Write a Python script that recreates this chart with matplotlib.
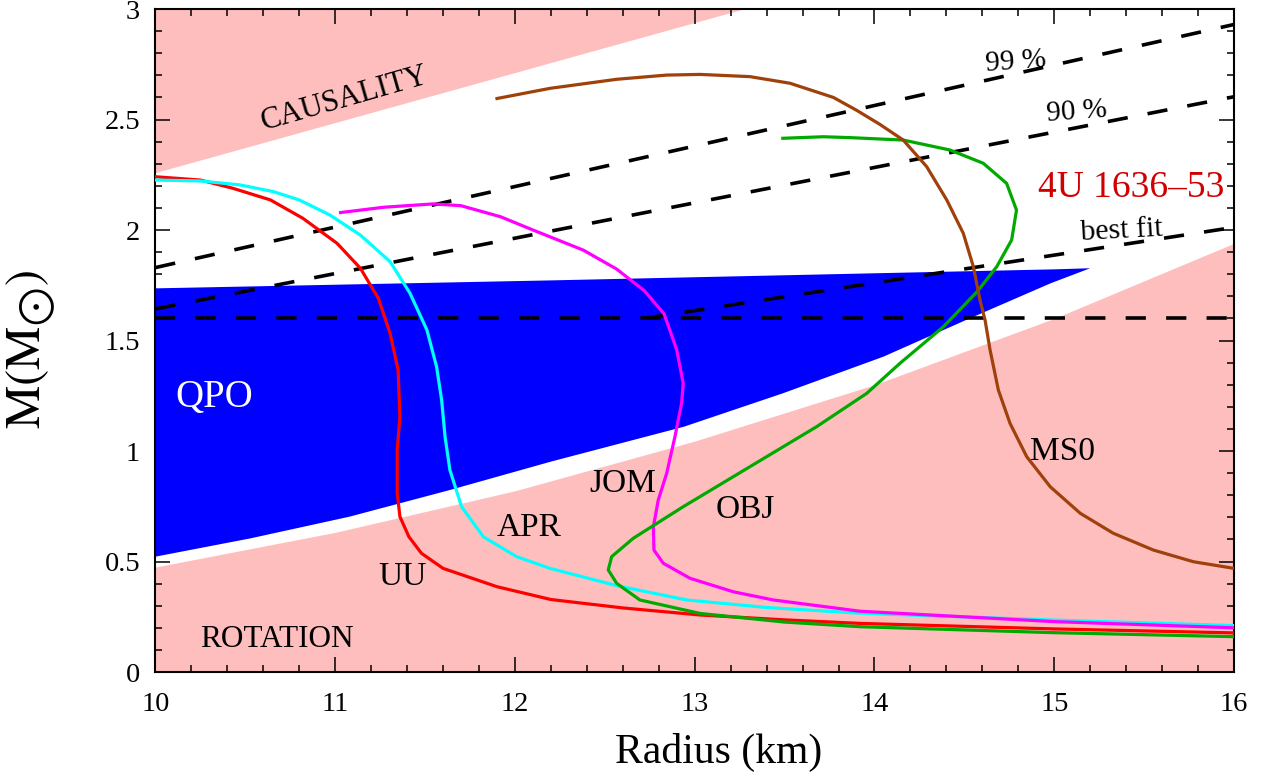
import numpy as np
import matplotlib
matplotlib.use('Agg')
import matplotlib.pyplot as plt
from matplotlib.ticker import MultipleLocator

plt.rcParams['font.family'] = ['Liberation Serif', 'DejaVu Serif']
plt.rcParams['mathtext.fontset'] = 'stix'

# Zonas excluidas
causalidad_r = [10.0, 13.27]
causalidad_m = [2.26, 3.0]
rotacion_r = [10.0, 11.0, 12.0, 13.0, 14.0, 15.0, 16.0]
rotacion_m = [0.475, 0.632, 0.82, 1.045, 1.30, 1.60, 1.94]

# Region QPO (azul)
qpo_sup_r = [10.0, 12.2, 15.0, 15.2]
qpo_sup_m = [1.736, 1.772, 1.822, 1.827]
qpo_inf_r = [10.0, 10.53, 11.08, 11.64, 12.2, 12.94, 13.49, 14.05, 14.51, 14.98, 15.2]
qpo_inf_m = [0.522, 0.605, 0.703, 0.824, 0.952, 1.11, 1.261, 1.427, 1.593, 1.759, 1.827]

# Lineas discontinuas 4U 1636-53
l99_r = [10.0, 16.0]
l99_m = [1.83, 2.93]
l90_r = [10.0, 16.0]
l90_m = [1.643, 2.603]
mejor_r = [12.72, 16.0]
mejor_m = [1.6, 2.012]
horiz_r = [10.0, 16.0]
horiz_m = [1.6, 1.6]

# Curvas masa-radio
uu_r = [10.0, 10.25, 10.43, 10.64, 10.82, 11.01, 11.14, 11.24, 11.305, 11.35, 11.36, 11.345,
        11.345, 11.36, 11.41, 11.48, 11.6, 11.9, 12.2, 12.6, 13.03, 13.5, 13.92, 15.0, 16.0]
uu_m = [2.241, 2.226, 2.189, 2.136, 2.053, 1.94, 1.827, 1.691, 1.533, 1.367, 1.155, 1.005,
        0.809, 0.703, 0.612, 0.537, 0.469, 0.386, 0.328, 0.29, 0.258, 0.236, 0.22, 0.195, 0.177]

apr_r = [10.0, 10.25, 10.47, 10.655, 10.80, 10.97, 11.14, 11.305, 11.416, 11.51, 11.564, 11.592,
         11.611, 11.638, 11.703, 11.824, 12.009, 12.195, 12.57, 12.955, 13.4, 13.92, 15.0, 16.0]
apr_m = [2.226, 2.222, 2.204, 2.174, 2.136, 2.068, 1.977, 1.857, 1.714, 1.548, 1.381, 1.231,
         1.065, 0.914, 0.748, 0.612, 0.522, 0.469, 0.39, 0.326, 0.292, 0.266, 0.235, 0.21]

jom_r = [11.03, 11.27, 11.545, 11.70, 11.92, 12.10, 12.38, 12.566, 12.72, 12.83, 12.90, 12.936,
         12.927, 12.89, 12.844, 12.797, 12.77, 12.773, 12.825, 12.974, 13.215, 13.437, 13.92, 15.0, 16.0]
jom_m = [2.079, 2.103, 2.118, 2.11, 2.06, 2.0, 1.909, 1.823, 1.725, 1.62, 1.457, 1.306,
         1.216, 1.065, 0.899, 0.778, 0.657, 0.552, 0.492, 0.424, 0.363, 0.326, 0.275, 0.228, 0.2]

obj_r = [13.49, 13.715, 13.864, 14.16, 14.42, 14.605, 14.735, 14.79, 14.763, 14.68, 14.57, 14.383,
         14.142, 13.957, 13.678, 13.307, 12.936, 12.658, 12.538, 12.519, 12.566, 12.695, 13.03, 13.5,
         13.92, 15.0, 16.0]
obj_m = [2.415, 2.422, 2.418, 2.407, 2.362, 2.302, 2.211, 2.09, 1.955, 1.834, 1.72, 1.562,
         1.397, 1.261, 1.11, 0.929, 0.748, 0.605, 0.522, 0.462, 0.401, 0.326, 0.265, 0.226,
         0.205, 0.178, 0.16]

ms0_r = [11.9, 12.195, 12.566, 12.844, 13.03, 13.307, 13.53, 13.771, 13.9, 14.03, 14.16, 14.29,
         14.402, 14.494, 14.55, 14.587, 14.615, 14.643, 14.689, 14.754, 14.847, 14.978, 15.145,
         15.328, 15.551, 15.774, 16.0]
ms0_m = [2.595, 2.641, 2.682, 2.701, 2.704, 2.694, 2.664, 2.6, 2.542, 2.478, 2.407, 2.287,
         2.136, 1.985, 1.834, 1.683, 1.593, 1.457, 1.276, 1.125, 0.974, 0.838, 0.718,
         0.628, 0.552, 0.499, 0.469]

rosa = '#FFBEBE'

fig = plt.figure(figsize=(12.71, 7.76), dpi=100)
ax = fig.add_axes([0.1223, 0.134, 0.8486, 0.8544])

# Zonas
ax.fill_between(causalidad_r, causalidad_m, 3.0, color=rosa, lw=0, zorder=1)
ax.fill_between(rotacion_r, 0, rotacion_m, color=rosa, lw=0, zorder=1)
ax.fill(np.concatenate([qpo_sup_r, qpo_inf_r[::-1]]),
        np.concatenate([qpo_sup_m, qpo_inf_m[::-1]]), color='#0000FF', lw=0, zorder=2)

# Lineas discontinuas
for rr, mm in [(l99_r, l99_m), (l90_r, l90_m), (mejor_r, mejor_m), (horiz_r, horiz_m)]:
    ax.plot(rr, mm, color='black', lw=2.6, dashes=(5.6, 5.6), zorder=3)

# Curvas
ax.plot(uu_r, uu_m, color='#FF0000', lw=2.3, zorder=4)
ax.plot(apr_r, apr_m, color='#00FFFF', lw=2.3, zorder=4)
ax.plot(jom_r, jom_m, color='#FF00FF', lw=2.3, zorder=4)
ax.plot(obj_r, obj_m, color='#00AA00', lw=2.3, zorder=4)
ax.plot(ms0_r, ms0_m, color='#A0400A', lw=2.3, zorder=4)

# Textos
ax.text(11.054, 2.593, 'CAUSALITY', fontsize=22, rotation=16, ha='center', va='center')
ax.text(10.676, 0.149, 'ROTATION', fontsize=22.5, ha='center', va='center')
ax.text(10.325, 1.24, 'QPO', fontsize=28, color='white', ha='center', va='center')
ax.text(11.374, 0.43, 'UU', fontsize=24, ha='center', va='center')
ax.text(12.08, 0.655, 'APR', fontsize=24, ha='center', va='center')
ax.text(12.598, 0.85, 'JOM', fontsize=24, ha='center', va='center')
ax.text(13.284, 0.735, 'OBJ', fontsize=24, ha='center', va='center')
ax.text(15.046, 0.998, 'MS0', fontsize=24, ha='center', va='center')
ax.text(15.426, 2.19, '4U 1636\u201353', fontsize=27, color='#D00000', ha='center', va='center')
ax.text(15.375, 1.997, 'best fit', fontsize=21.5, rotation=3, ha='center', va='center')
ax.text(14.787, 2.762, '99 %', fontsize=21, rotation=4, ha='center', va='center')
ax.text(15.125, 2.534, '90 %', fontsize=21, rotation=4, ha='center', va='center')

ax.set_xlim(10, 16)
ax.set_ylim(0, 3)
ax.xaxis.set_major_locator(MultipleLocator(1))
ax.xaxis.set_minor_locator(MultipleLocator(0.2))
ax.yaxis.set_major_locator(MultipleLocator(0.5))
ax.yaxis.set_minor_locator(MultipleLocator(0.1))
ax.yaxis.set_major_formatter(plt.FuncFormatter(lambda v, p: f'{v:g}'))
ax.tick_params(which='both', direction='in', top=True, right=True, width=1.1, labelsize=20.5)
ax.tick_params(which='major', length=11)
ax.tick_params(which='minor', length=5.2)
ax.tick_params(axis='x', pad=14.5)
ax.tick_params(axis='y', pad=11)
for s in ax.spines.values():
    s.set_linewidth(1.5)

# Etiquetas de los ejes
fig.text(719 / 1271, 1 - 763 / 776, 'Radius (km)', fontsize=30, ha='center', va='baseline')
fig.text(31 / 1271, 1 - 349 / 776, r'$\mathrm{M(M}_{\bigodot}\mathrm{)}$', fontsize=35,
         rotation=90, ha='center', va='center')

plt.savefig('out.png', dpi=100)
